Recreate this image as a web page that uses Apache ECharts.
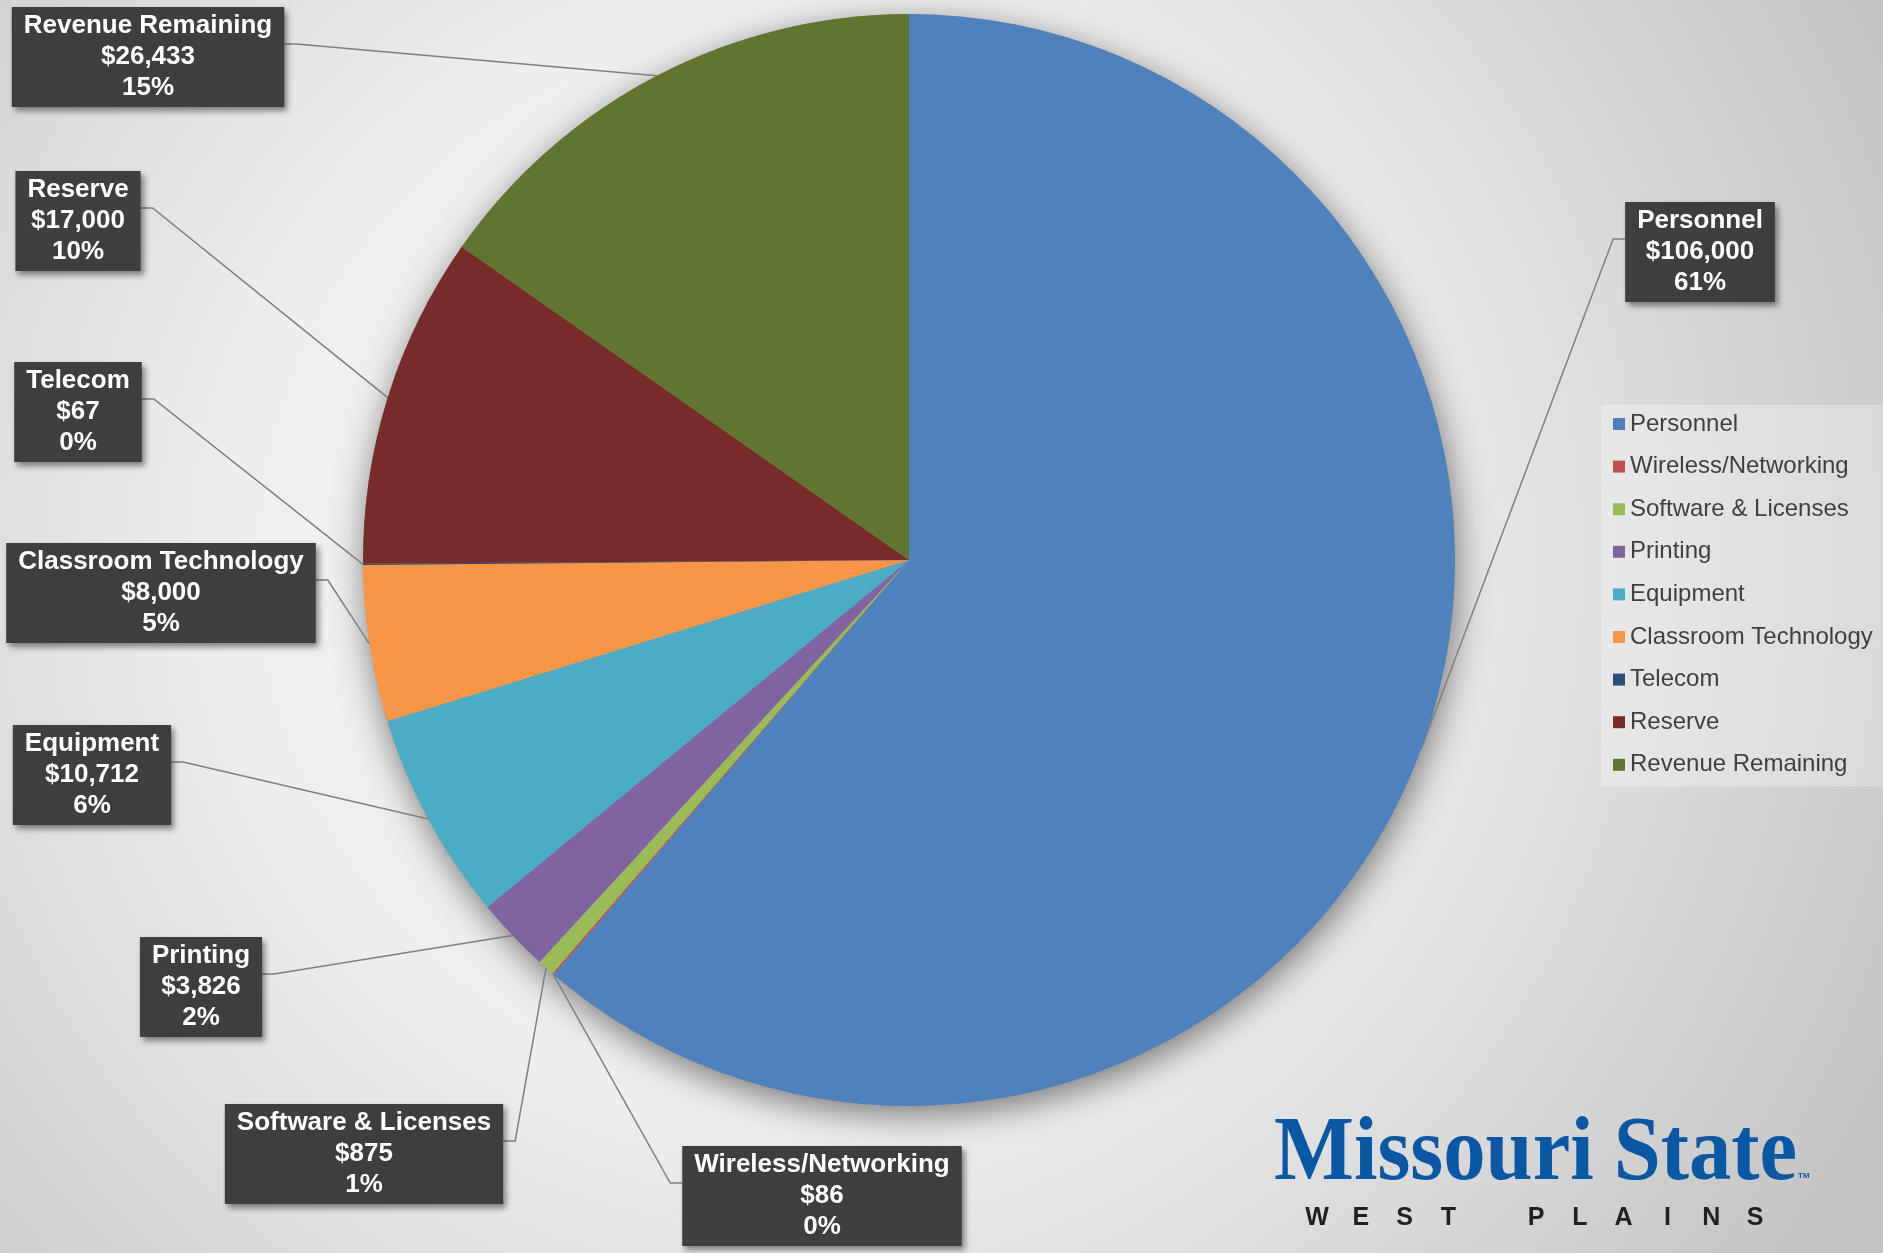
<!DOCTYPE html>
<html>
<head>
<meta charset="utf-8">
<script src="https://cdn.jsdelivr.net/npm/echarts@6/dist/echarts.min.js"></script>
<style>
html,body{margin:0;padding:0;background:#e6e6e6;}
#chart{width:1883px;height:1253px;}
</style>
</head>
<body>
<div id="chart"></div>
<script>
// ---- data ----
const categories = ['Personnel', 'Wireless/Networking', 'Software & Licenses', 'Printing', 'Equipment', 'Classroom Technology', 'Telecom', 'Reserve', 'Revenue Remaining'];
const amounts = [106000, 86, 875, 3826, 10712, 8000, 67, 17000, 26433];
const sliceColors = ['#4f81bd', '#c0504d', '#9bbb59', '#8064a2', '#4bacc6', '#f79646', '#2c4d75', '#772c2a', '#5f7530'];
const logoTitle = 'Missouri State';
const logoSub = 'WEST PLAINS';

// ---- layout (positions only) ----
const pieCenter = [909, 560];
const pieRadius = 546;
const labelCenters = [[1700, 252], [822, 1196], [364, 1154], [201, 987], [92, 775], [161, 593], [78, 412], [78, 221], [148, 57]];

const total = amounts.reduce((a, b) => a + b, 0);
const fmt = v => v.toString().replace(/\B(?=(\d{3})+(?!\d))/g, ',');

const chart = echarts.init(document.getElementById('chart'), null, {renderer: 'canvas'});

// logo letters
const subEls = [];
const subChars = logoSub.split('');
subChars.forEach((ch, i) => {
  if (ch === ' ') return;
  subEls.push({
    type: 'text', x: 1317 + i * 43.8, y: 1218, silent: true,
    style: {text: ch, font: 'bold 25px "Liberation Sans", Arial, sans-serif', fill: '#231f20',
      textAlign: 'center', textVerticalAlign: 'middle', align: 'center', verticalAlign: 'middle'}
  });
});

const option = {
  animation: false,
  backgroundColor: {
    type: 'radial', x: 0.42, y: 0.45, r: 1.0,
    colorStops: [
      {offset: 0, color: '#f7f7f7'},
      {offset: 0.45, color: '#eeeeee'},
      {offset: 1, color: '#c2c2c2'}
    ]
  },
  legend: {
    orient: 'vertical', left: 1601, top: 405,
    padding: [7, 12, 10, 12],
    itemWidth: 12, itemHeight: 12, itemGap: 18.6,
    icon: 'rect', selectedMode: false,
    backgroundColor: 'rgba(255,255,255,0.3)',
    data: categories,
    textStyle: {fontFamily: '"Liberation Sans", Arial, sans-serif', fontSize: 24, lineHeight: 24, color: '#404040'}
  },
  graphic: [
    {
      type: 'text', x: 1274, y: 1155, scaleX: 0.92, silent: true,
      style: {text: 'Missouri', font: 'bold 92px "Liberation Serif", "Times New Roman", serif', fill: '#0a57a4',
        textAlign: 'left', textVerticalAlign: 'middle', align: 'left', verticalAlign: 'middle'}
    },
    {
      type: 'text', x: 1797, y: 1155, scaleX: 0.92, silent: true,
      style: {text: 'State', font: 'bold 92px "Liberation Serif", "Times New Roman", serif', fill: '#0a57a4',
        textAlign: 'right', textVerticalAlign: 'middle', align: 'right', verticalAlign: 'middle'}
    },
    {
      type: 'text', x: 1798, y: 1176, silent: true,
      style: {text: 'TM', font: 'bold 8px "Liberation Sans", Arial, sans-serif', fill: '#0a57a4',
        textAlign: 'left', textVerticalAlign: 'middle', align: 'left', verticalAlign: 'middle'}
    }
  ].concat(subEls),
  series: [
    {
      name: 'shadow', type: 'pie', silent: true, z: 1,
      center: pieCenter, radius: pieRadius,
      label: {show: false}, labelLine: {show: false},
      itemStyle: {color: '#9a9a9a', shadowBlur: 34, shadowColor: 'rgba(0,0,0,0.5)', shadowOffsetX: 2, shadowOffsetY: 9},
      data: [{name: '_total', value: total}]
    },
    {
      name: 'Budget', type: 'pie', z: 2,
      center: pieCenter, radius: pieRadius,
      startAngle: 90, clockwise: true, avoidLabelOverlap: false,
      emphasis: {disabled: true},
      itemStyle: {borderWidth: 0},
      data: categories.map((n, i) => ({name: n, value: amounts[i], itemStyle: {color: sliceColors[i]}})),
      label: {
        show: true, position: 'outside',
        formatter: p => p.name + '\n$' + fmt(p.value) + '\n' + Math.round(p.value / total * 100) + '%',
        color: '#ffffff', fontFamily: '"Liberation Sans", Arial, sans-serif', fontWeight: 'bold',
        fontSize: 26, lineHeight: 31, align: 'center',
        backgroundColor: '#3e3e3e', padding: [4, 12, 3, 12],
        shadowColor: 'rgba(0,0,0,0.45)', shadowBlur: 6, shadowOffsetX: 3, shadowOffsetY: 4
      },
      labelLine: {show: true, length: 20, length2: 20, smooth: false, lineStyle: {color: '#7f7f7f', width: 1.5}},
      labelLayout: function (p) {
        const c = labelCenters[p.dataIndex];
        const w = p.labelRect.width, h = p.labelRect.height;
        const a = p.labelLinePoints ? p.labelLinePoints[0] : [pieCenter[0], pieCenter[1]];
        const attachLeft = a[0] < c[0];
        const ay = c[1] - h / 2 + h * 0.37;
        const edgeX = attachLeft ? c[0] - w / 2 : c[0] + w / 2;
        const stubX = attachLeft ? edgeX - 12 : edgeX + 12;
        return {
          x: c[0], y: c[1], align: 'center', verticalAlign: 'middle',
          labelLinePoints: [a, [stubX, ay], [edgeX, ay]]
        };
      }
    }
  ]
};
chart.setOption(option);
</script>
</body>
</html>
